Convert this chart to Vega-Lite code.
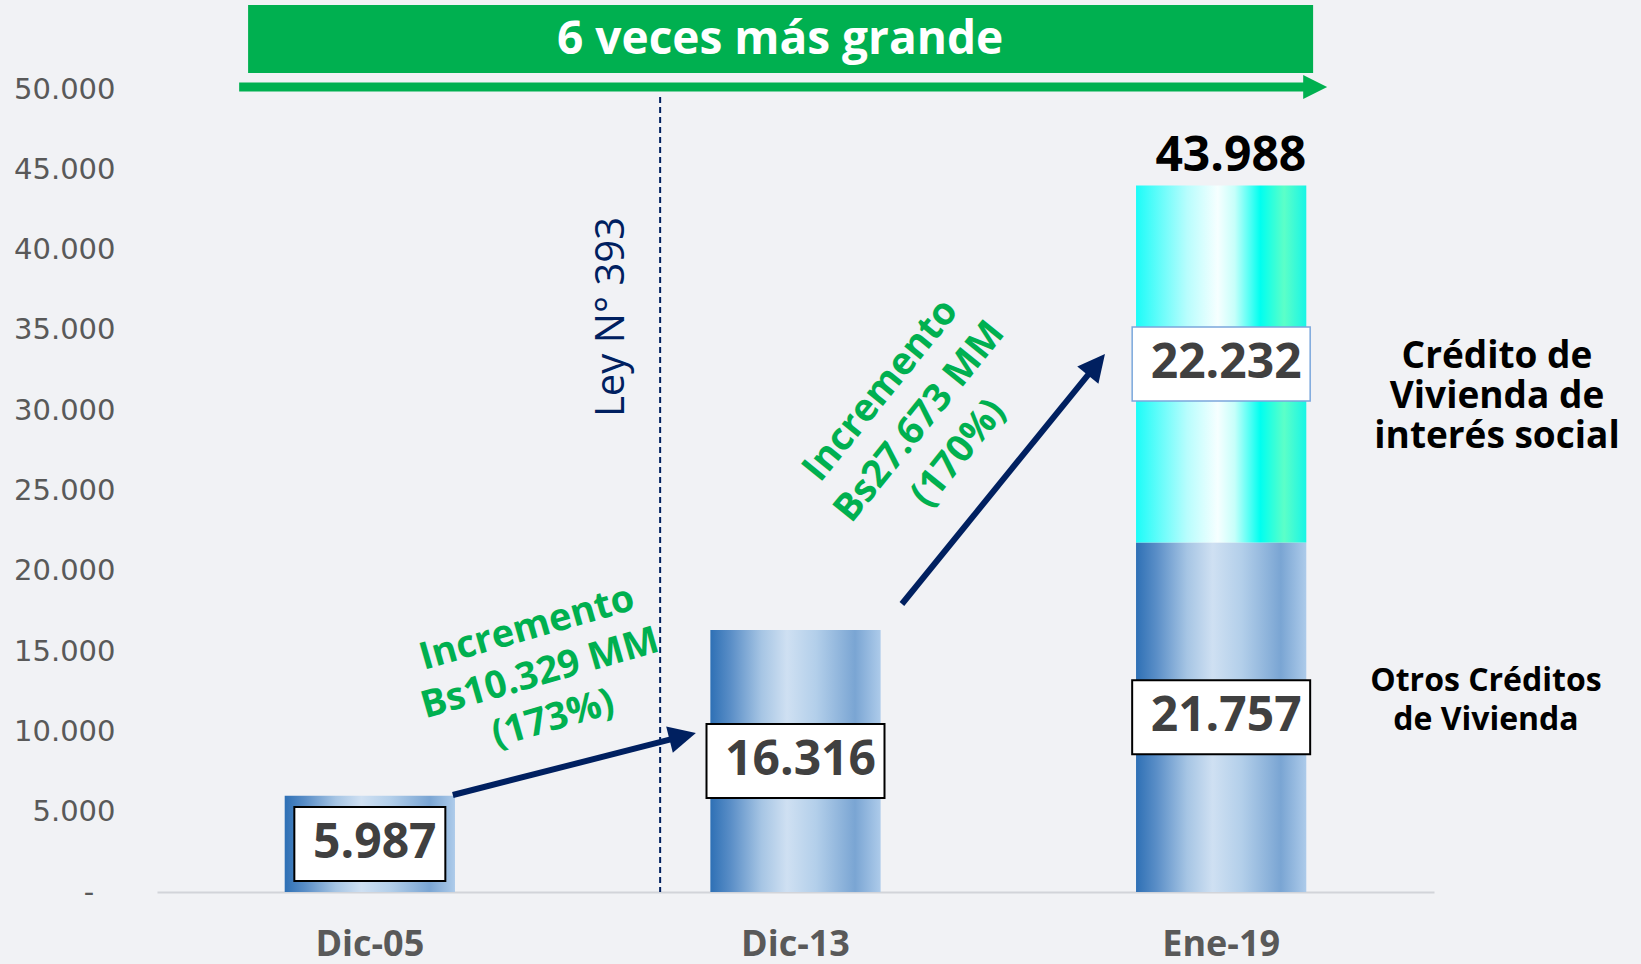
{
  "$schema": "https://vega.github.io/schema/vega-lite/v6.json",
  "width": 1277,
  "height": 892,
  "autosize": {"type": "none"},
  "padding": {"left": 157, "top": 0, "right": 207, "bottom": 72},
  "background": "#f1f2f5",
  "config": {
    "view": {"stroke": null},
    "font": "Open Sans",
    "locale": {"number": {"decimal": ",", "thousands": ".", "grouping": [3], "currency": ["", ""]}}
  },
  "datasets": {
    "creditos": [
      {"periodo": "Dic-05", "tipo": "Otros Créditos de Vivienda", "valor": 5987},
      {"periodo": "Dic-13", "tipo": "Otros Créditos de Vivienda", "valor": 16316},
      {"periodo": "Ene-19", "tipo": "Otros Créditos de Vivienda", "valor": 21757},
      {"periodo": "Ene-19", "tipo": "Vivienda de interés social", "valor": 22232}
    ],
    "totales": [
      {"periodo": "Ene-19", "total": 43988}
    ]
  },
  "layer": [
    {
      "data": {"name": "creditos"},
      "layer": [
        {
          "mark": {"type": "bar"},
          "encoding": {
            "x": {"field": "periodo", "type": "nominal", "sort": ["Dic-05", "Dic-13", "Ene-19"],
              "scale": {"paddingInner": 0.6, "paddingOuter": 0.3},
              "axis": {"title": null, "labelFont": "Open Sans", "labelFontWeight": "bold", "labelFontSize": 36, "labelColor": "#595959", "labelAngle": 0, "ticks": false, "tickSize": 0, "labelPadding": 52, "labelBaseline": "middle", "domainColor": "#d2d4d9", "domainWidth": 2, "grid": false}},
            "y": {"field": "valor", "type": "quantitative", "stack": "zero",
              "scale": {"domain": [0, 55542], "nice": false, "zero": true},
              "axis": {"title": null, "values": [0, 5000, 10000, 15000, 20000, 25000, 30000, 35000, 40000, 45000, 50000], "format": ",d", "labelExpr": "datum.value == 0 ? '-\u2800' : datum.label", "domain": false, "ticks": false, "tickSize": 0, "grid": false, "labelPadding": 42, "labelFont": "DejaVu Sans", "labelFontSize": 29, "labelColor": "#595959"}},
            "order": {"field": "tipo"},
            "detail": {"field": "tipo"},
            "fill": {
              "condition": {"test": "datum.tipo === 'Vivienda de interés social'",
                "value": {"gradient": "linear", "x1": 0, "x2": 1, "y1": 0, "y2": 0, "stops": [
                  {"offset": 0, "color": "#1cfcf8"},
                  {"offset": 0.3, "color": "#b8fdfd"},
                  {"offset": 0.48, "color": "#f6ffff"},
                  {"offset": 0.58, "color": "#c6fffa"},
                  {"offset": 0.73, "color": "#00fff0"},
                  {"offset": 0.87, "color": "#5cffc8"},
                  {"offset": 1, "color": "#18f5e6"}]}},
              "value": {"gradient": "linear", "x1": 0, "x2": 1, "y1": 0, "y2": 0, "stops": [
                {"offset": 0, "color": "#2e70b5"},
                {"offset": 0.12, "color": "#5a8ec7"},
                {"offset": 0.3, "color": "#a6c5e4"},
                {"offset": 0.45, "color": "#cfe0f2"},
                {"offset": 0.62, "color": "#b3cfea"},
                {"offset": 0.85, "color": "#7aa5d3"},
                {"offset": 1, "color": "#adcbea"}]}
            }
          }
        },
        {
          "mark": {"type": "point", "filled": true, "fill": "#ffffff", "opacity": 1, "strokeOpacity": 1},
          "encoding": {
            "x": {"field": "periodo", "type": "nominal", "sort": ["Dic-05", "Dic-13", "Ene-19"]},
            "y": {"field": "valor", "type": "quantitative", "stack": "zero", "bandPosition": 0.5, "scale": {"domain": [0, 55542], "nice": false, "zero": true}},
            "order": {"field": "tipo"},
            "detail": {"field": "tipo"},
            "shape": {"condition": {"test": "datum.periodo === 'Dic-05'", "value": "M-1,-0.49H1V0.49H-1Z"}, "value": "M-1,-0.4157H1V0.4157H-1Z"},
            "size": {"condition": {"test": "datum.periodo === 'Dic-05'", "value": 22801}, "value": 31684},
            "stroke": {"condition": {"test": "datum.tipo === 'Vivienda de interés social'", "value": "#7ba7dc"}, "value": "#000000"},
            "strokeWidth": {"condition": {"test": "datum.tipo === 'Vivienda de interés social'", "value": 1.5}, "value": 2}
          }
        },
        {
          "mark": {"type": "text", "font": "Open Sans", "fontWeight": "bold", "fontSize": 48, "color": "#404040", "baseline": "middle", "align": "center", "dx": 5},
          "encoding": {
            "x": {"field": "periodo", "type": "nominal", "sort": ["Dic-05", "Dic-13", "Ene-19"]},
            "y": {"field": "valor", "type": "quantitative", "stack": "zero", "bandPosition": 0.5, "scale": {"domain": [0, 55542], "nice": false, "zero": true}},
            "order": {"field": "tipo"},
            "detail": {"field": "tipo"},
            "text": {"field": "valor", "type": "quantitative", "format": ",d"}
          }
        },
        {
          "data": {"name": "totales"},
          "mark": {"type": "text", "font": "Open Sans", "fontWeight": "bold", "fontSize": 48, "color": "#000000", "baseline": "alphabetic", "align": "right", "dy": -15},
          "encoding": {
            "x": {"field": "periodo", "type": "nominal", "sort": ["Dic-05", "Dic-13", "Ene-19"], "bandPosition": 1},
            "y": {"field": "total", "type": "quantitative", "scale": {"domain": [0, 55542], "nice": false, "zero": true}},
            "text": {"field": "total", "type": "quantitative", "format": ",d"}
          }
        }
      ]
    },
    {
      "data": {"values": [{}]},
      "layer": [
        {
          "mark": {"type": "rect", "color": "#00b050"},
          "encoding": {
            "x": {"datum": -0.286, "type": "quantitative", "scale": {"domain": [-0.5, 2.5], "nice": false, "zero": false}, "axis": {"orient": "top", "domain": false, "ticks": false, "labels": false, "grid": false, "title": null}},
            "x2": {"datum": 2.216},
            "y": {"datum": 55231, "type": "quantitative", "scale": {"domain": [0, 55542], "nice": false, "zero": true}},
            "y2": {"datum": 50997}
          }
        },
        {
          "mark": {"type": "text", "font": "Open Sans", "fontWeight": "bold", "fontSize": 46, "color": "#ffffff", "align": "center", "baseline": "middle"},
          "encoding": {
            "x": {"datum": 0.964, "type": "quantitative", "scale": {"domain": [-0.5, 2.5], "nice": false, "zero": false}, "axis": {"orient": "top", "domain": false, "ticks": false, "labels": false, "grid": false, "title": null}},
            "y": {"datum": 53052, "type": "quantitative", "scale": {"domain": [0, 55542], "nice": false, "zero": true}},
            "text": {"value": "6 veces más grande"}
          }
        },
        {
          "mark": {"type": "rule", "color": "#00b050", "strokeWidth": 9},
          "encoding": {
            "x": {"datum": -0.307, "type": "quantitative", "scale": {"domain": [-0.5, 2.5], "nice": false, "zero": false}, "axis": {"orient": "top", "domain": false, "ticks": false, "labels": false, "grid": false, "title": null}},
            "x2": {"datum": 2.197},
            "y": {"datum": 50125, "type": "quantitative", "scale": {"domain": [0, 55542], "nice": false, "zero": true}}
          }
        },
        {
          "mark": {"type": "point", "shape": "M0,0L0.8,1.6L-0.8,1.6Z", "filled": true, "color": "#00b050", "opacity": 1, "size": 900, "angle": 90},
          "encoding": {
            "x": {"datum": 2.249, "type": "quantitative", "scale": {"domain": [-0.5, 2.5], "nice": false, "zero": false}, "axis": {"orient": "top", "domain": false, "ticks": false, "labels": false, "grid": false, "title": null}},
            "y": {"datum": 50125, "type": "quantitative", "scale": {"domain": [0, 55542], "nice": false, "zero": true}}
          }
        },
        {
          "mark": {"type": "rule", "color": "#002060", "strokeWidth": 2, "strokeDash": [6, 4]},
          "encoding": {
            "x": {"datum": 0.682, "type": "quantitative", "scale": {"domain": [-0.5, 2.5], "nice": false, "zero": false}, "axis": {"orient": "top", "domain": false, "ticks": false, "labels": false, "grid": false, "title": null}},
            "y": {"datum": 49502, "type": "quantitative", "scale": {"domain": [0, 55542], "nice": false, "zero": true}},
            "y2": {"datum": 0}
          }
        },
        {
          "mark": {"type": "text", "font": "Open Sans", "fontSize": 40, "color": "#002060", "align": "center", "baseline": "middle", "angle": -90},
          "encoding": {
            "x": {"datum": 0.569, "type": "quantitative", "scale": {"domain": [-0.5, 2.5], "nice": false, "zero": false}, "axis": {"orient": "top", "domain": false, "ticks": false, "labels": false, "grid": false, "title": null}},
            "y": {"datum": 35804, "type": "quantitative", "scale": {"domain": [0, 55542], "nice": false, "zero": true}},
            "text": {"value": "Ley N° 393"}
          }
        },
        {
          "mark": {"type": "rule", "color": "#002060", "strokeWidth": 6},
          "encoding": {
            "x": {"datum": 0.195, "type": "quantitative", "scale": {"domain": [-0.5, 2.5], "nice": false, "zero": false}, "axis": {"orient": "top", "domain": false, "ticks": false, "labels": false, "grid": false, "title": null}},
            "x2": {"datum": 0.732},
            "y": {"datum": 6040, "type": "quantitative", "scale": {"domain": [0, 55542], "nice": false, "zero": true}},
            "y2": {"datum": 9670}
          }
        },
        {
          "mark": {"type": "point", "shape": "M0,0L0.8,1.6L-0.8,1.6Z", "filled": true, "color": "#002060", "opacity": 1, "size": 1156, "angle": 76},
          "encoding": {
            "x": {"datum": 0.766, "type": "quantitative", "scale": {"domain": [-0.5, 2.5], "nice": false, "zero": false}, "axis": {"orient": "top", "domain": false, "ticks": false, "labels": false, "grid": false, "title": null}},
            "y": {"datum": 9900, "type": "quantitative", "scale": {"domain": [0, 55542], "nice": false, "zero": true}}
          }
        },
        {
          "mark": {"type": "rule", "color": "#002060", "strokeWidth": 6},
          "encoding": {
            "x": {"datum": 1.250, "type": "quantitative", "scale": {"domain": [-0.5, 2.5], "nice": false, "zero": false}, "axis": {"orient": "top", "domain": false, "ticks": false, "labels": false, "grid": false, "title": null}},
            "x2": {"datum": 1.705},
            "y": {"datum": 17933, "type": "quantitative", "scale": {"domain": [0, 55542], "nice": false, "zero": true}},
            "y2": {"datum": 32778}
          }
        },
        {
          "mark": {"type": "point", "shape": "M0,0L0.8,1.6L-0.8,1.6Z", "filled": true, "color": "#002060", "opacity": 1, "size": 1156, "angle": 39},
          "encoding": {
            "x": {"datum": 1.727, "type": "quantitative", "scale": {"domain": [-0.5, 2.5], "nice": false, "zero": false}, "axis": {"orient": "top", "domain": false, "ticks": false, "labels": false, "grid": false, "title": null}},
            "y": {"datum": 33500, "type": "quantitative", "scale": {"domain": [0, 55542], "nice": false, "zero": true}}
          }
        },
        {
          "mark": {"type": "text", "font": "Open Sans", "fontWeight": "bold", "fontSize": 38, "color": "#00b050", "align": "center", "baseline": "middle", "angle": -16, "lineHeight": 47, "dy": -47},
          "encoding": {
            "x": {"datum": 0.4, "type": "quantitative", "scale": {"domain": [-0.5, 2.5], "nice": false, "zero": false}, "axis": {"orient": "top", "domain": false, "ticks": false, "labels": false, "grid": false, "title": null}},
            "y": {"datum": 13574, "type": "quantitative", "scale": {"domain": [0, 55542], "nice": false, "zero": true}},
            "text": {"value": ["Incremento", "Bs10.329 MM", "(173%)"]}
          }
        },
        {
          "mark": {"type": "text", "font": "Open Sans", "fontWeight": "bold", "fontSize": 38, "color": "#00b050", "align": "center", "baseline": "middle", "angle": -51, "lineHeight": 50, "dy": -50},
          "encoding": {
            "x": {"datum": 1.2925, "type": "quantitative", "scale": {"domain": [-0.5, 2.5], "nice": false, "zero": false}, "axis": {"orient": "top", "domain": false, "ticks": false, "labels": false, "grid": false, "title": null}},
            "y": {"datum": 29266, "type": "quantitative", "scale": {"domain": [0, 55542], "nice": false, "zero": true}},
            "text": {"value": ["Incremento", "Bs27.673 MM", "(170%)"]}
          }
        },
        {
          "mark": {"type": "text", "font": "Open Sans", "fontWeight": "bold", "fontSize": 37, "color": "#000000", "align": "center", "baseline": "middle", "lineHeight": 40, "dy": -40},
          "encoding": {
            "x": {"datum": 2.648, "type": "quantitative", "scale": {"domain": [-0.5, 2.5], "nice": false, "zero": false}, "axis": {"orient": "top", "domain": false, "ticks": false, "labels": false, "grid": false, "title": null}},
            "y": {"datum": 30822, "type": "quantitative", "scale": {"domain": [0, 55542], "nice": false, "zero": true}},
            "text": {"value": ["Crédito de", "Vivienda de", "interés social"]}
          }
        },
        {
          "mark": {"type": "text", "font": "Open Sans", "fontWeight": "bold", "fontSize": 32, "color": "#000000", "align": "center", "baseline": "middle", "lineHeight": 39, "dy": -19.5},
          "encoding": {
            "x": {"datum": 2.622, "type": "quantitative", "scale": {"domain": [-0.5, 2.5], "nice": false, "zero": false}, "axis": {"orient": "top", "domain": false, "ticks": false, "labels": false, "grid": false, "title": null}},
            "y": {"datum": 11955, "type": "quantitative", "scale": {"domain": [0, 55542], "nice": false, "zero": true}},
            "text": {"value": ["Otros Créditos", "de Vivienda"]}
          }
        }
      ]
    }
  ],
  "resolve": {"scale": {"x": "independent"}}
}
